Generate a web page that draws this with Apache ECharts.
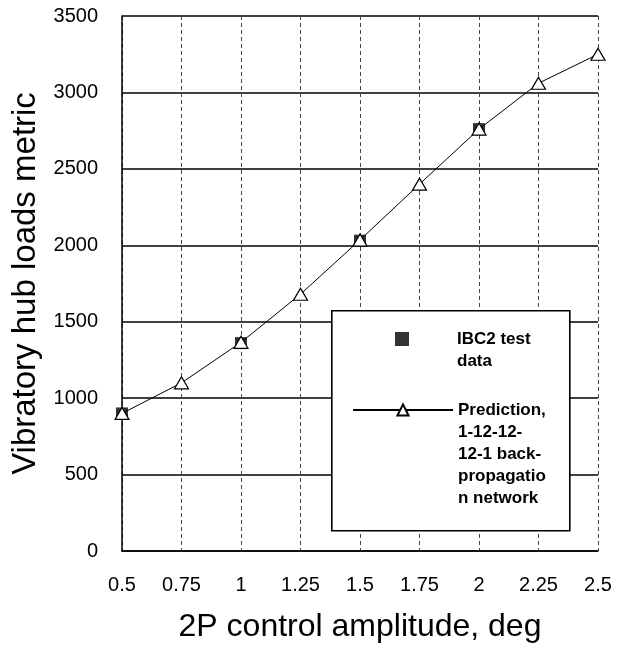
<!DOCTYPE html>
<html>
<head>
<meta charset="utf-8">
<script src="https://cdn.jsdelivr.net/npm/echarts@6/dist/echarts.min.js"></script>
<style>
  html, body { margin: 0; padding: 0; background: #fff; }
  #chart { width: 620px; height: 656px; }
</style>
</head>
<body>
<div id="chart"></div>
<script>
// Control amplitude (deg) at each point
const amplitude = [0.5, 0.75, 1, 1.25, 1.5, 1.75, 2, 2.25, 2.5];
// Network prediction of the vibratory hub loads metric
const predicted = [900, 1100, 1365, 1680, 2035, 2400, 2760, 3060, 3250];
// Measured test data points
const testAmplitude = [0.5, 1, 1.5, 2];
const testValues = [900, 1360, 2030, 2760];

const testName = 'IBC2 test data';
const predName = 'Prediction, 1-12-12-12-1 back-propagation network';
// Legend captions, wrapped as in the printed key; the leading blank lines
// keep each icon level with the first caption line.
const testCaption = ['IBC2 test', 'data'];
const predCaption = ['Prediction,', '1-12-12-', '12-1 back-', 'propagatio', 'n network'];

function caption(lines) {
  const pad = new Array(lines.length - 1).fill('');
  return pad.concat(lines).join('\n');
}

const font = 'Arial, "Liberation Sans", Helvetica, sans-serif';
const legendText = { fontSize: 17, fontWeight: 'bold', lineHeight: 22, color: '#000', fontFamily: font };
const chart = echarts.init(document.getElementById('chart'), null, { renderer: 'canvas' });

const KEY_ICON_W = 100;
const KEY_ICON_H = 14;

function keyLegend(name, lines, left, top, icon) {
  const item = { name: name };
  if (icon) item.icon = icon;
  return {
    orient: 'vertical',
    left: left,
    top: top,
    padding: 0,
    itemWidth: KEY_ICON_W,
    itemHeight: KEY_ICON_H,
    selectedMode: false,
    formatter: function () { return caption(lines); },
    textStyle: legendText,
    data: [item],
    z: 5
  };
}

chart.setOption({
  backgroundColor: '#fff',
  animation: false,
  textStyle: { fontFamily: font, color: '#000' },
  grid: { left: 122, right: 22, top: 16, bottom: 105, containLabel: false },
  xAxis: {
    type: 'value',
    min: 0.5, max: 2.5, interval: 0.25,
    name: '2P control amplitude, deg',
    nameLocation: 'middle',
    nameGap: 60,
    nameTextStyle: { fontSize: 32, color: '#000', fontFamily: font },
    axisLine: { show: true, lineStyle: { color: '#000', width: 1.5 } },
    axisTick: { show: false },
    axisLabel: { fontSize: 20, color: '#000', margin: 24, fontFamily: font },
    splitLine: { show: true, lineStyle: { color: '#444', width: 1, type: [4, 3] } }
  },
  yAxis: {
    type: 'value',
    min: 0, max: 3500, interval: 500,
    name: 'Vibratory hub loads metric',
    nameLocation: 'middle',
    nameRotate: 90,
    nameGap: 78,
    nameTextStyle: { fontSize: 33, color: '#000', fontFamily: font },
    axisLine: { show: true, lineStyle: { color: '#000', width: 1.5 } },
    axisTick: { show: false },
    axisLabel: {
      fontSize: 20, color: '#000', margin: 24, fontFamily: font,
      formatter: function (v) { return String(v); }
    },
    splitLine: { show: true, lineStyle: { color: '#000', width: 1.6 } }
  },
  // Frame of the key
  graphic: [{
    type: 'rect',
    left: 331, top: 310,
    shape: { width: 238, height: 220 },
    style: { fill: '#fff', stroke: '#000', lineWidth: 1.6 },
    z: 1
  }],
  legend: [
    // the square icon sits centred in the icon slot, and the legend box starts at the square
    keyLegend(testName, testCaption, 352 + (KEY_ICON_W - KEY_ICON_H) / 2, 306, 'path://M0 0H10V10H0Z'),
    keyLegend(predName, predCaption, 352, 311)
  ],
  series: [
    {
      name: testName,
      type: 'scatter',
      data: testAmplitude.map((x, i) => [x, testValues[i]]),
      symbol: 'rect',
      symbolSize: 12,
      itemStyle: { color: '#000' },
      z: 2
    },
    {
      name: predName,
      type: 'line',
      data: amplitude.map((x, i) => [x, predicted[i]]),
      symbol: 'triangle',
      symbolSize: [14, 12],
      showSymbol: true,
      lineStyle: { color: '#000', width: 1 },
      itemStyle: { color: '#fff', borderColor: '#000', borderWidth: 1.2 },
      z: 3
    }
  ]
});
</script>
</body>
</html>
